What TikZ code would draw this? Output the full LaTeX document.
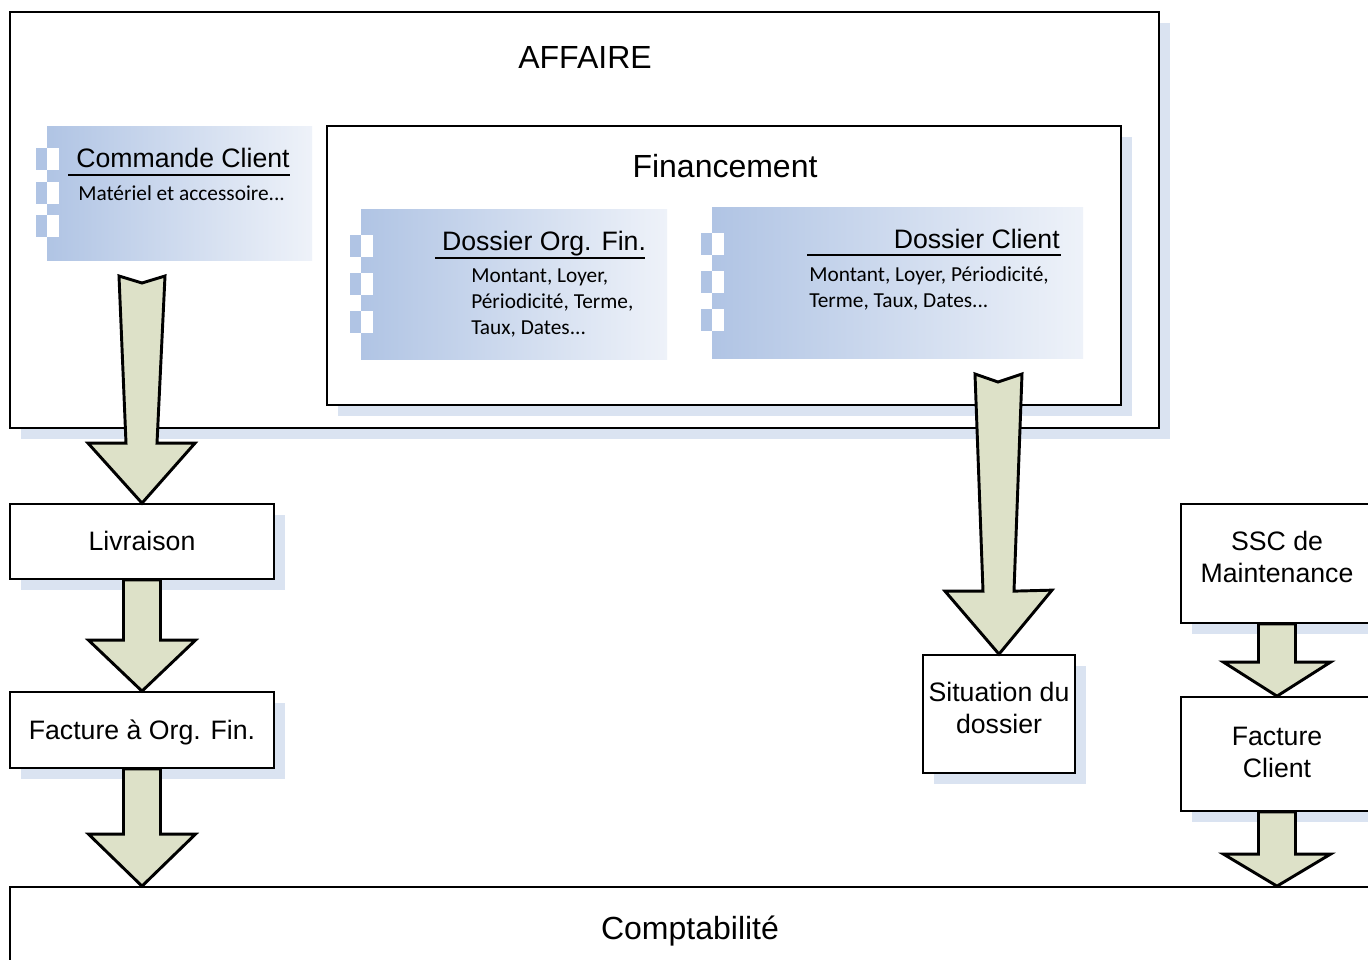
\documentclass[tikz,border=0pt]{standalone}
\usepackage{fontspec}
\setmainfont{Liberation Sans}
\newfontfamily\calib{Carlito}
\usetikzlibrary{calc,fit,shadows}
\definecolor{shadowc}{RGB}{218,227,241}
\definecolor{gradL}{RGB}{176,196,228}
\definecolor{gradR}{RGB}{238,242,249}
\definecolor{arrowc}{RGB}{221,225,200}
\tikzset{
 box/.style={draw=black, line width=1.3pt, fill=white, inner sep=0pt,
   drop shadow={shadow xshift=8.25pt, shadow yshift=-8.25pt, fill=shadowc, opacity=1, draw=none}},
 comp/.style={draw=none, inner sep=0pt, left color=gradL, right color=gradR},
 bigtxt/.style={font=\fontsize{24}{29}\selectfont, inner sep=0pt, anchor=base},
 lbl/.style={font=\fontsize{20}{24}\selectfont, align=center, inner sep=0pt, anchor=base},
 subtxt/.style={font=\calib\fontsize{16}{19.5}\selectfont, align=left, inner sep=0pt, anchor=base west},
 blk/.style={draw=black, line width=2.2pt, fill=arrowc, line join=miter},
 uline/.style={draw=black, line width=1.2pt}
}
\newcommand{\shortblk}[3]{%
 \path (#1.south |- #2.north) coordinate (tipc);
 \draw[blk] ($(#1.south)+(-18.5,0)$) -- ($(#1.south)+(18.5,0)$) -- ($(tipc)+(18.5,-#3)$) -- ($(tipc)+(53.5,-#3)$) -- (tipc) -- ($(tipc)+(-53.5,-#3)$) -- ($(tipc)+(-18.5,-#3)$) -- cycle;}
\newcommand{\compsquares}[4]{% x1 x2 x3 starting y list
 \foreach \yy in {#4} {
   \fill[gradL] (#1,\yy) rectangle (#2,\yy+22);
   \fill[white] (#2,\yy) rectangle (#3,\yy+22);
 }}
\begin{document}
\begin{tikzpicture}[x=0.75pt,y=-0.75pt]
\useasboundingbox (0,0) rectangle (1368,960);
\clip (0,0) rectangle (1368,960);
\fill[white] (0,0) rectangle (1368,960);

% main containers
\node[box, fit={(10,12) (1159,428)}] (affaire) {};
\node[bigtxt] (affaireT) at (585,68) {AFFAIRE};
\node[box, fit={(327,126) (1121,405)}] (fin) {};
\node[bigtxt] (finT) at (725,177) {Financement};

% Commande Client component
\node[comp, fit={(47,126) (312,260)}] (cmd) {};
\compsquares{36}{47}{59}{148,182,215}
\node[lbl] (cmdT) at (183,167) {Commande Client};
\draw[uline] (68,175) -- (290,175);
\node[subtxt] (cmdS) at (78,200) {Matériel et accessoire...};

% Dossier Org. Fin. component
\node[comp, fit={(361,209) (667,359)}] (dof) {};
\compsquares{350}{361}{373}{235,273,311}
\node[lbl] (dofT) at (544,250) {Dossier Org. Fin.};
\draw[uline] (435,258) -- (645,258);
\node[subtxt] (dofS) at (471,334) {Montant, Loyer,\\Périodicité, Terme,\\Taux, Dates...};

% Dossier Client component
\node[comp, fit={(712,207) (1083,358)}] (dcl) {};
\compsquares{701}{712}{724}{233,271,309}
\node[lbl, anchor=base east] (dclT) at (1060,248) {Dossier Client};
\draw[uline] (807,255) -- (1061,255);
\node[subtxt] (dclS) at (809,307) {Montant, Loyer, Périodicité,\\Terme, Taux, Dates...};

% lower boxes
\node[box, fit={(10,504) (274,579)}] (liv) {};
\node[lbl] at (142,550) {Livraison};
\node[box, fit={(10,692) (274,768)}] (fac) {};
\node[lbl] at (142,739) {Facture à Org. Fin.};
\node[box, fit={(923,655) (1075,773)}] (sit) {};
\node[lbl] at (999,733) {Situation du\\dossier};
\node[box, fit={(1181,504) (1373,623)}] (ssc) {};
\node[lbl] at (1277,582) {SSC de\\Maintenance};
\node[box, fit={(1181,697) (1373,811)}] (fcl) {};
\node[lbl] at (1277,777) {Facture\\Client};
\node[box, fit={(10,887) (1370,985)}] (compta) {};
\node[bigtxt] at (690,939) {Comptabilité};

% long arrows
\coordinate (t1) at (142,276);
\draw[blk] ($(t1)+(-23,0)$) -- ($(t1)+(0,7)$) -- ($(t1)+(23,0)$) -- ($(liv.north)+(15,-60)$) -- ($(liv.north)+(53,-60)$) -- (liv.north) -- ($(liv.north)+(-54,-60)$) -- ($(liv.north)+(-16,-60)$) -- cycle;
\coordinate (t2) at (998,374);
\draw[blk] ($(t2)+(-23,0)$) -- ($(t2)+(0,8)$) -- ($(t2)+(24,0)$) -- ($(sit.north)+(15,-63)$) -- ($(sit.north)+(53,-64)$) -- (sit.north) -- ($(sit.north)+(-54,-63)$) -- ($(sit.north)+(-16,-63)$) -- cycle;

% short arrows
\shortblk{liv}{fac}{51}
\shortblk{fac}{compta}{52}
\shortblk{ssc}{fcl}{34}
\shortblk{fcl}{compta}{32}
\end{tikzpicture}
\end{document}
